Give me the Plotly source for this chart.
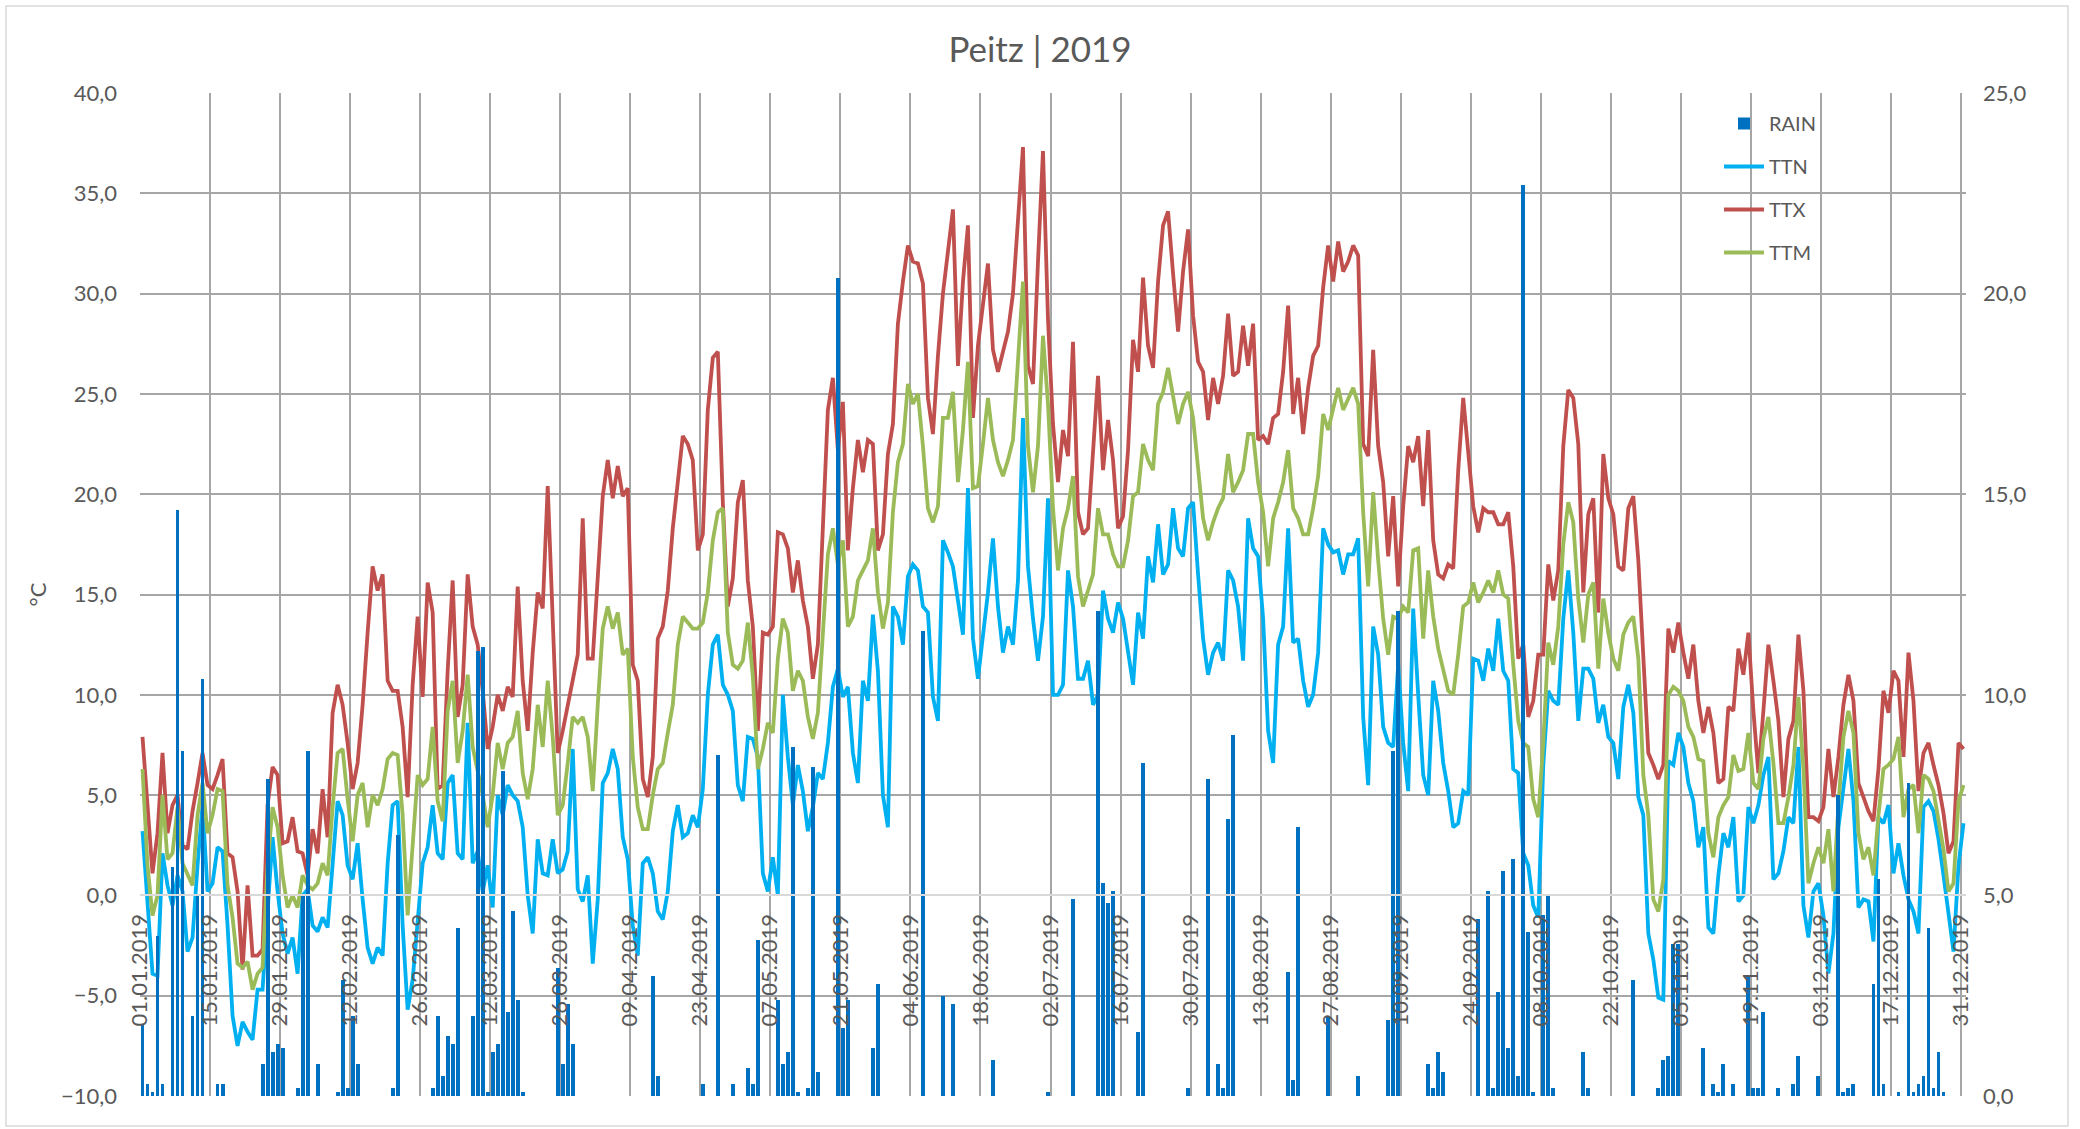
import plotly.graph_objects as go
import pandas as pd

# ---------------- data (daily values, 01.01.2019 - 31.12.2019) ----------------
DATES = pd.date_range("2019-01-01", periods=365, freq="D").strftime("%Y-%m-%d").tolist()
TICK_DATES = pd.date_range("2019-01-01", "2019-12-31", freq="14D")
TICK_VALS = TICK_DATES.strftime("%Y-%m-%d").tolist()
TICK_TEXT = TICK_DATES.strftime("%d.%m.%Y").tolist()

TTX = [
    7.9, 4.5, 1.1, 3.1, 7.1, 3.1, 4.5, 5.0, 2.5, 2.3, 4.2, 5.6, 7.1, 5.5, 5.3, 6.0, 6.8, 2.1, 1.9, 0.2,
    -3.7, 0.5, -3.0, -3.0, -2.7, 4.5, 6.4, 6.0, 2.6, 2.7, 3.9, 2.2, 2.1, 1.0, 3.3, 2.1, 5.3,
    2.9, 9.1, 10.5, 9.5, 7.6, 5.3, 6.6, 9.5, 13.1, 16.4, 15.2, 16.0, 10.7, 10.2, 10.2, 8.4, 4.9, 10.5, 13.9, 9.9,
    15.6, 14.1, 5.3, 5.5, 11.2, 15.7, 8.9, 10.5, 16.0, 13.4, 12.5, 10.2, 7.3, 8.4, 10.0, 9.2, 10.4,
    9.9, 15.4, 10.7, 8.2, 12.1, 15.1, 14.3, 20.4, 13.8, 7.1, 8.2, 9.5, 10.7, 12.0, 18.8, 11.8, 11.8, 15.7, 19.9, 21.7,
    19.8, 21.4, 19.9, 20.3, 11.5, 10.7, 5.8, 4.9, 6.9, 12.8, 13.4, 15.2, 18.3, 20.6, 22.9, 22.5, 21.7,
    17.2, 18.0, 24.2, 26.8, 27.1, 19.6, 14.4, 15.8, 19.6, 20.7, 15.7, 13.4, 8.2, 13.1, 13.0, 13.4, 18.1, 18.0, 17.3, 15.1,
    16.7, 14.7, 13.4, 10.8, 12.5, 18.0, 24.2, 25.8, 22.2, 24.6, 17.2, 20.3, 22.7, 21.1, 22.7, 22.5, 17.2,
    18.0, 22.0, 23.5, 28.5, 30.6, 32.4, 31.6, 31.5, 30.5, 24.8, 23.0, 26.9, 30.0, 32.1, 34.2, 26.4, 30.6, 33.4, 23.8, 27.4,
    29.4, 31.5, 27.2, 26.1, 27.1, 28.1, 30.0, 33.6, 37.3, 26.4, 25.5, 31.6, 37.1, 28.7, 23.5, 20.6, 23.2,
    21.9, 27.6, 19.1, 18.0, 18.3, 22.2, 25.9, 21.2, 23.7, 21.7, 18.3, 18.9, 22.2, 27.7, 26.1, 30.8, 27.4, 26.3, 30.6, 33.4,
    34.1, 31.0, 28.1, 31.1, 33.2, 28.9, 26.6, 26.1, 23.7, 25.8, 24.5, 25.9, 29.0, 25.9, 26.1, 28.4, 26.4,
    28.5, 22.7, 22.9, 22.5, 23.8, 24.0, 26.1, 29.4, 24.0, 25.8, 23.0, 25.3, 26.9, 27.4, 30.3, 32.4, 30.6, 32.6, 31.1, 31.6,
    32.4, 31.9, 22.5, 21.9, 27.2, 22.4, 20.6, 16.9, 19.9, 15.4, 19.4, 22.4, 21.6, 22.9, 19.4, 23.2, 17.7,
    16.0, 15.8, 16.5, 16.3, 21.2, 24.8, 21.9, 19.4, 18.1, 19.3, 19.1, 19.1, 18.5, 18.5, 19.1, 16.4, 11.8, 12.5, 8.9, 9.7,
    12.0, 12.0, 16.5, 14.7, 16.2, 22.4, 25.2, 24.8, 22.5, 15.1, 19.0, 19.8, 14.1, 22.0, 19.8, 19.0, 16.4,
    16.2, 19.3, 19.9, 16.7, 11.8, 7.1, 6.5, 5.8, 6.5, 13.3, 12.1, 13.6, 12.1, 10.8, 12.5, 9.7, 8.1, 9.4, 8.1, 5.6,
    5.8, 9.4, 9.2, 12.3, 11.0, 13.1, 9.2, 6.1, 9.2, 12.5, 10.7, 8.7, 4.9, 7.8, 8.7, 13.0, 10.2,
    3.9, 3.9, 3.7, 4.4, 7.3, 4.9, 6.9, 9.5, 11.0, 9.7, 5.6, 4.9, 4.2, 3.7, 6.3, 10.2, 9.1, 11.2, 10.7, 6.9,
    12.1, 9.7, 5.2, 7.1, 7.6, 6.5, 5.5, 4.1, 2.1, 2.7, 7.6, 7.3,
]

TTM = [
    6.3, 1.5, -1.0, 0.0, 5.0, 1.8, 2.1, 4.4, 1.6, 1.1, 0.5, 4.0, 5.6, 3.1, 4.0, 5.3, 5.2, 0.5, -1.1, -3.4,
    -3.6, -3.3, -4.7, -3.9, -3.6, 1.5, 4.4, 3.4, 1.0, -0.6, 0.0, -0.6, 1.0, 0.5, 0.3, 0.6, 1.6,
    1.0, 4.4, 7.1, 7.3, 4.8, 2.7, 5.0, 5.6, 3.4, 5.0, 4.5, 5.3, 6.8, 7.1, 7.0, 4.0, -1.0, 2.4, 6.0, 5.5,
    5.8, 8.4, 4.7, 3.7, 9.2, 10.7, 6.6, 8.2, 11.0, 7.4, 6.3, 5.0, 3.4, 5.0, 7.6, 6.3, 7.6,
    7.9, 9.2, 6.1, 4.8, 6.3, 9.5, 7.4, 10.7, 7.9, 4.0, 4.5, 6.6, 8.9, 8.6, 8.9, 7.9, 5.2, 9.5, 13.3, 14.4,
    13.3, 14.1, 12.0, 12.3, 6.9, 4.4, 3.3, 3.3, 5.0, 6.3, 6.6, 8.1, 9.5, 12.5, 13.9, 13.6, 13.3,
    13.3, 13.6, 15.1, 17.7, 19.1, 19.3, 13.1, 11.5, 11.3, 11.7, 13.6, 10.9, 6.3, 7.3, 8.6, 8.1, 11.8, 13.8, 13.1, 10.2,
    11.2, 10.7, 8.9, 7.8, 9.1, 12.8, 17.0, 18.3, 16.5, 17.7, 13.4, 13.9, 15.7, 16.2, 16.7, 18.3, 15.1,
    13.3, 14.6, 19.1, 21.6, 22.5, 25.5, 24.5, 25.0, 22.4, 19.3, 18.6, 19.4, 23.8, 23.8, 25.1, 20.6, 23.2, 26.6, 20.3, 20.4,
    22.5, 24.8, 22.7, 21.6, 20.9, 21.7, 22.7, 26.8, 30.6, 22.4, 20.1, 22.4, 27.9, 24.5, 19.3, 16.2, 18.3,
    19.3, 20.9, 15.9, 14.4, 15.2, 16.0, 19.3, 18.0, 18.0, 17.0, 16.4, 16.4, 17.7, 19.9, 20.1, 22.5, 21.7, 21.2, 24.5, 25.1,
    26.3, 24.8, 23.5, 24.5, 25.1, 23.8, 21.2, 18.8, 17.7, 18.6, 19.3, 19.8, 22.0, 20.1, 20.6, 21.2, 23.0,
    23.0, 20.6, 19.1, 16.4, 18.8, 19.6, 20.6, 22.2, 19.3, 18.8, 18.0, 18.0, 19.3, 20.9, 24.0, 23.2, 24.3, 25.3, 24.2, 24.8,
    25.3, 24.5, 19.1, 15.4, 20.1, 16.7, 13.8, 12.0, 13.9, 13.8, 14.4, 14.1, 17.2, 17.3, 12.8, 16.2, 13.9,
    12.3, 11.2, 10.2, 10.0, 12.0, 14.4, 14.6, 15.6, 14.6, 15.1, 15.7, 15.1, 16.2, 15.0, 14.8, 11.5, 8.7, 7.6, 7.4, 4.8,
    3.9, 7.6, 12.6, 11.5, 13.4, 17.5, 19.6, 18.6, 14.8, 12.6, 15.0, 15.6, 11.3, 14.8, 13.1, 11.8, 11.2,
    13.0, 13.6, 13.9, 11.8, 6.0, 4.0, -0.2, -0.8, 0.8, 10.0, 10.4, 10.2, 9.7, 8.4, 7.9, 6.8, 6.7, 3.1, 1.9, 3.9,
    4.5, 4.9, 7.0, 6.2, 6.3, 8.1, 5.6, 5.3, 7.8, 8.9, 6.6, 3.6, 3.6, 4.9, 6.5, 9.9, 6.3,
    0.6, 1.6, 2.4, 1.6, 3.3, 0.2, 4.5, 7.9, 9.2, 8.1, 3.1, 1.8, 2.4, 1.0, 4.0, 6.3, 6.5, 6.8, 7.9, 3.9,
    5.3, 5.5, 3.1, 6.0, 5.8, 5.2, 3.7, 2.3, 0.2, 0.6, 4.7, 5.5,
]

TTN = [
    3.2, -0.5, -3.9, -4.0, 2.1, 0.5, -0.5, 1.0, 0.2, -2.8, -2.1, 1.5, 4.5, 0.2, 0.6, 2.4, 2.2, -1.5, -6.0, -7.5,
    -6.3, -6.8, -7.2, -4.7, -4.7, -0.8, 2.9, 0.2, -1.9, -2.9, -2.1, -3.9, 0.0, 0.3, -1.5, -1.8, -1.1,
    -1.6, 1.5, 4.7, 4.0, 1.5, 0.8, 2.6, -0.2, -2.6, -3.4, -2.6, -3.0, 1.6, 4.5, 4.7, -1.5, -5.7, -4.2, -1.5, 1.6,
    2.4, 4.5, 2.1, 1.8, 5.6, 6.0, 2.1, 1.8, 8.6, 1.6, 2.2, 0.2, 1.5, -0.6, 5.0, 4.0, 5.5,
    5.0, 4.7, 3.4, 0.0, -1.9, 2.8, 1.1, 1.0, 2.8, 1.1, 1.3, 2.2, 7.3, 0.3, -0.3, 1.0, -3.4, -0.2, 5.6, 6.1,
    7.3, 6.3, 2.9, 1.8, -1.5, -3.0, 1.6, 1.9, 1.1, -0.8, -1.2, 0.2, 3.2, 4.5, 2.9, 3.1, 4.0,
    3.4, 5.3, 10.0, 12.5, 13.0, 10.5, 10.0, 9.2, 5.5, 4.7, 7.9, 7.8, 6.9, 1.1, 0.2, 1.9, 0.0, 10.0, 6.9, 4.5,
    6.5, 5.2, 3.2, 4.4, 6.1, 5.8, 7.6, 10.4, 11.3, 9.9, 10.4, 7.1, 5.6, 10.7, 9.7, 14.0, 11.2,
    5.0, 3.4, 14.4, 13.9, 12.5, 15.9, 16.5, 16.2, 14.4, 14.1, 9.9, 8.7, 17.7, 17.1, 16.4, 14.7, 13.0, 20.3, 12.8, 10.8,
    13.0, 15.1, 17.8, 14.4, 12.1, 13.4, 12.5, 15.7, 23.8, 16.4, 13.8, 11.7, 13.9, 19.8, 10.0, 10.0, 10.5,
    16.2, 14.4, 10.8, 10.8, 11.7, 9.5, 10.0, 15.2, 13.8, 13.1, 14.6, 13.8, 12.1, 10.5, 14.1, 12.8, 16.9, 15.6, 18.5, 16.0,
    16.5, 19.3, 17.3, 16.9, 19.3, 19.6, 16.0, 12.8, 11.0, 12.1, 12.6, 11.7, 16.2, 15.7, 14.4, 11.7, 18.8,
    17.3, 16.9, 13.8, 8.2, 6.6, 12.5, 13.4, 18.3, 12.6, 12.8, 10.7, 9.4, 10.0, 12.1, 18.3, 17.5, 17.1, 17.2, 16.0, 17.0,
    17.0, 17.8, 8.9, 5.5, 13.4, 12.0, 8.4, 7.6, 7.4, 11.5, 7.6, 5.2, 14.3, 10.0, 6.0, 5.0, 10.7,
    9.2, 6.6, 5.2, 3.4, 3.6, 5.2, 5.0, 11.8, 11.7, 10.7, 12.3, 11.2, 13.8, 11.2, 10.7, 6.3, 6.1, 2.1, 1.5, -0.5,
    -1.1, 6.5, 10.2, 9.7, 9.5, 13.8, 16.2, 13.1, 8.7, 11.3, 11.3, 10.8, 8.6, 9.5, 7.9, 7.6, 5.8,
    9.4, 10.5, 9.1, 4.9, 4.0, -1.9, -3.2, -5.1, -5.2, 6.7, 6.5, 8.1, 7.4, 5.6, 4.7, 2.4, 3.4, -1.6, -1.9, 1.0,
    3.1, 2.4, 3.9, -0.3, 0.0, 4.4, 3.6, 4.5, 6.0, 6.9, 0.8, 1.1, 2.2, 3.9, 3.6, 7.4, -0.5,
    -2.1, 0.2, 0.6, -1.0, -3.9, -1.9, 3.4, 5.2, 7.3, 4.7, -0.6, -0.2, -0.3, -2.3, 3.9, 3.6, 4.5, 1.1, 2.6, 1.0,
    -0.2, -0.8, -1.9, 4.4, 4.7, 4.2, 2.8, 1.0, -0.8, -2.8, 1.5, 3.6,
]

RAIN = [
    1.8, 0.3, 0.1, 4.0, 0.3, 0, 5.7, 14.6, 8.6, 0,
    2.0, 5.0, 10.4, 0, 0, 0.3, 0.3, 0, 0, 0,
    0, 0, 0, 0, 0.8, 7.9, 1.1, 1.3, 1.2, 0,
    0, 0.2, 5.0, 8.6, 0, 0.8, 0, 0, 0, 0.1,
    2.9, 0.2, 2.0, 0.8, 0, 0, 0, 0, 0, 0,
    0.2, 6.5, 0, 0, 0, 0, 0, 0, 0.2, 2.0,
    0.5, 1.5, 1.3, 4.2, 0, 0, 2.0, 11.1, 11.2, 0.1,
    1.1, 1.3, 8.1, 2.1, 4.6, 2.4, 0.1, 0, 0, 0,
    0, 0, 0, 3.2, 0.8, 2.3, 1.3, 0, 0, 0,
    0, 0, 0, 0, 0, 0, 0, 0, 0, 0,
    0, 0, 3.0, 0.5, 0, 0, 0, 0, 0, 0,
    0, 0, 0.3, 0, 0, 8.5, 0, 0, 0.3, 0,
    0, 0.7, 0.3, 3.9, 0, 0, 0, 2.4, 0.8, 1.1,
    8.7, 0.1, 0, 0.2, 8.2, 0.6, 0, 0, 0, 20.4,
    1.7, 2.4, 0, 0, 0, 0, 1.2, 2.8, 0, 0,
    0, 0, 0, 0, 0, 0, 11.6, 0, 0, 0,
    2.5, 0, 2.3, 0, 0, 0, 0, 0, 0, 0,
    0.9, 0, 0, 0, 0, 0, 0, 0, 0, 0,
    0, 0.1, 0, 0, 0, 0, 4.9, 0, 0, 0,
    0, 12.1, 5.3, 4.8, 5.1, 0, 0, 0, 0, 1.6,
    8.3, 0, 0, 0, 0, 0, 0, 0, 0, 0.2,
    0, 0, 0, 7.9, 0, 0.8, 0.2, 6.9, 9.0, 0,
    0, 0, 0, 0, 0, 0, 0, 0, 0, 3.1,
    0.4, 6.7, 0, 0, 0, 0, 0, 2.0, 0, 0,
    0, 0, 0, 0.5, 0, 0, 0, 0, 0, 1.9,
    8.6, 12.1, 0, 0, 0, 0, 0, 0.8, 0.2, 1.1,
    0.6, 0, 0, 0, 0, 0, 0, 4.4, 0, 5.1,
    0.2, 2.6, 5.6, 1.2, 5.9, 0.5, 22.7, 4.1, 0.1, 0,
    4.5, 5.0, 0.2, 0, 0, 0, 0, 0, 1.1, 0.2,
    0, 0, 0, 0, 0, 0, 0, 0, 2.9, 0,
    0, 0, 0, 0.2, 0.9, 1.0, 3.8, 3.8, 0, 0,
    0, 0, 1.2, 0, 0.3, 0.1, 0.8, 0, 0.3, 0,
    0, 3.0, 0.2, 0.2, 2.1, 0, 0, 0.2, 0, 0,
    0.3, 1.0, 0, 0, 0, 0.5, 0, 0, 0, 7.5,
    0.1, 0.2, 0.3, 0, 0, 0, 2.8, 5.4, 0.3, 0,
    0, 0.1, 0, 7.8, 0.1, 0.3, 0.5, 4.2, 0.2, 1.1,
    0.1, 0, 0, 0, 0,
]

assert len(TTX) == 365 and len(TTM) == 365 and len(TTN) == 365 and len(RAIN) == 365

# ---------------- figure ----------------
W, H = 2080, 1129
PL, PR, PT, PB = 140, 1966, 93, 1096   # plot area in pixels
DAY_MS = 86400000
GRID = "#A6A6A6"
TXT = "#595959"
FONT = "Lato, Calibri, Carlito, sans-serif"

period = dict(xperiod=DAY_MS, xperiod0="2019-01-01", xperiodalignment="middle")

fig = go.Figure()
fig.add_trace(go.Bar(
    x=DATES, y=RAIN, name="RAIN", yaxis="y2", marker=dict(color="#0070C0", line=dict(width=0)),
    width=[0.78 * DAY_MS] * len(DATES), legendgroup="a", **period))
fig.add_trace(go.Scatter(
    x=DATES, y=TTN, name="TTN", mode="lines", line=dict(color="#00B0F0", width=3.8),
    legendgroup="b", **period))
fig.add_trace(go.Scatter(
    x=DATES, y=TTX, name="TTX", mode="lines", line=dict(color="#C0504D", width=3.8),
    legendgroup="c", **period))
fig.add_trace(go.Scatter(
    x=DATES, y=TTM, name="TTM", mode="lines", line=dict(color="#9BBB59", width=3.8),
    legendgroup="d", **period))


def px_x(px):
    return (px - PL) / (PR - PL)


def px_y(py):
    return (PB - py) / (PB - PT)


fig.update_layout(
    width=W, height=H,
    margin=dict(l=PL, r=W - PR, t=PT, b=H - PB, pad=0),
    paper_bgcolor="white", plot_bgcolor="white",
    separators=",.",
    font=dict(family=FONT, size=22, color=TXT),
    title=dict(text="Peitz | 2019", x=0.5, xref="container", xanchor="center",
               y=1 - 50 / H, yref="container", yanchor="middle",
               font=dict(family=FONT, size=35, color=TXT)),
    bargap=0, barmode="overlay",
    xaxis=dict(
        type="date", range=["2019-01-01", "2020-01-01"],
        tickmode="array", tickvals=TICK_VALS, ticktext=TICK_TEXT, tickangle=-90,
        showgrid=True, gridcolor=GRID, gridwidth=1.5,
        zeroline=False, showline=True, linecolor="#D9D9D9", linewidth=1.5,
        anchor="free", position=0.2, ticks="", ticklabelstandoff=9,
        tickfont=dict(family=FONT, size=22, color=TXT), fixedrange=True,
    ),
    yaxis=dict(
        range=[-10, 40], tick0=-10, dtick=5, tickformat=".1f",
        showgrid=True, gridcolor=GRID, gridwidth=1.5, zeroline=False, showline=False,
        ticks="", ticklabelstandoff=22,
        title=dict(text="°C", standoff=8, font=dict(family=FONT, size=22, color=TXT)),
        tickfont=dict(family=FONT, size=22, color=TXT), fixedrange=True,
    ),
    yaxis2=dict(
        range=[0, 25], tick0=0, dtick=5, tickformat=".1f", overlaying="y", side="right",
        showgrid=False, zeroline=False, showline=False, ticks="", ticklabelstandoff=16,
        tickfont=dict(family=FONT, size=22, color=TXT), fixedrange=True,
    ),
    legend=dict(
        x=px_x(1719), y=px_y(104), xanchor="left", yanchor="top",
        bgcolor="rgba(0,0,0,0)", borderwidth=0,
        font=dict(family=FONT, size=20, color=TXT),
        traceorder="grouped", tracegroupgap=14, itemwidth=40,
    ),
    shapes=[dict(type="rect", xref="paper", yref="paper",
                 x0=px_x(6), x1=px_x(2068), y0=px_y(1126), y1=px_y(6),
                 line=dict(color="#D9D9D9", width=1.5), fillcolor="rgba(0,0,0,0)", layer="below")],
)

fig.write_html("out.html", include_plotlyjs=True, config={"displayModeBar": False},
               post_script="document.body.style.margin='0';document.body.style.overflow='hidden';")
